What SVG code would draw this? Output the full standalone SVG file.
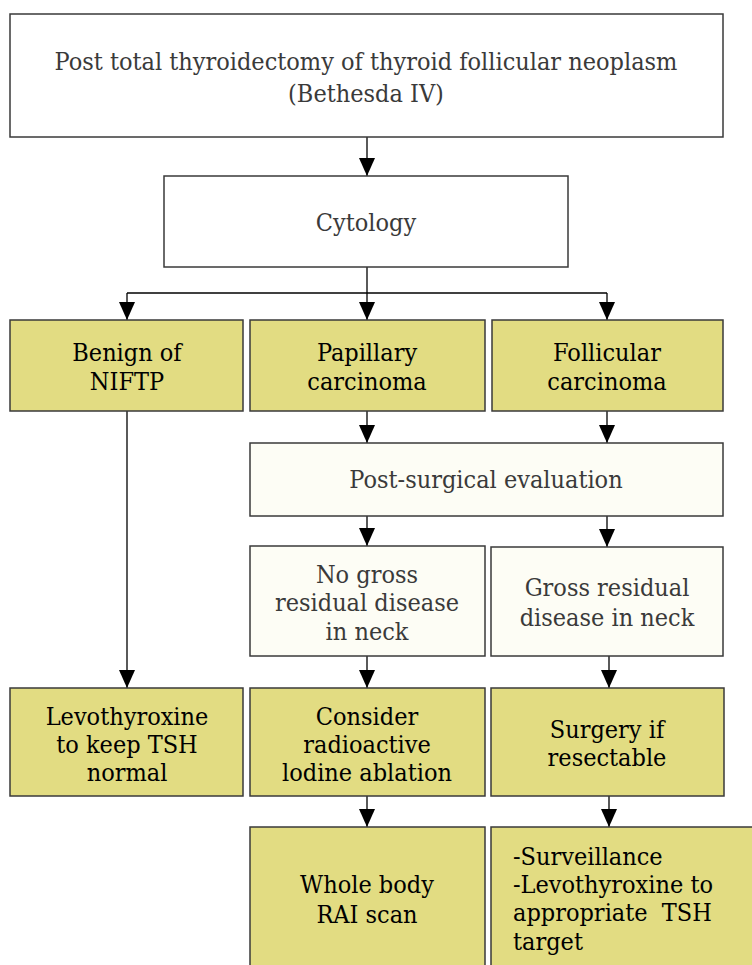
<svg xmlns="http://www.w3.org/2000/svg" width="752" height="965" viewBox="0 0 752 965">
<style>
.box{stroke:#3a3a3a;stroke-width:1.5}
.w{fill:#ffffff}
.c{fill:#fdfdf5}
.y{fill:#e2dc82}
text{font-family:'DejaVu Serif Condensed','DejaVu Serif',serif;font-stretch:condensed;font-size:25px;text-anchor:middle}
.tg{fill:#3a3a3a}
.tb{fill:#000000}
.ln{stroke:#000;stroke-width:1.3;fill:none}
</style>
<defs>
<marker id="a" markerUnits="userSpaceOnUse" markerWidth="18" markerHeight="16" viewBox="0 0 18 16" refX="18" refY="8" orient="auto">
<path d="M0,0 L18,8 L0,16 Z" fill="#000"/>
</marker>
</defs>
<g id="connectors">
<line class="ln" x1="367" y1="137" x2="367" y2="176" marker-end="url(#a)"/>
<polyline class="ln" points="367,267 367,293"/>
<line class="ln" x1="127" y1="293" x2="607" y2="293"/>
<line class="ln" x1="127" y1="293" x2="127" y2="320" marker-end="url(#a)"/>
<line class="ln" x1="367" y1="293" x2="367" y2="320" marker-end="url(#a)"/>
<line class="ln" x1="607" y1="293" x2="607" y2="320" marker-end="url(#a)"/>
<line class="ln" x1="367" y1="411" x2="367" y2="443" marker-end="url(#a)"/>
<line class="ln" x1="607" y1="411" x2="607" y2="443" marker-end="url(#a)"/>
<line class="ln" x1="367" y1="516" x2="367" y2="546" marker-end="url(#a)"/>
<line class="ln" x1="607" y1="516" x2="607" y2="547" marker-end="url(#a)"/>
<line class="ln" x1="127" y1="411" x2="127" y2="688" marker-end="url(#a)"/>
<line class="ln" x1="367" y1="656" x2="367" y2="688" marker-end="url(#a)"/>
<line class="ln" x1="609" y1="656" x2="609" y2="688" marker-end="url(#a)"/>
<line class="ln" x1="367" y1="796" x2="367" y2="827" marker-end="url(#a)"/>
<line class="ln" x1="609" y1="796" x2="609" y2="827" marker-end="url(#a)"/>
</g>
<g id="n-top">
<rect class="box w" x="10" y="14" width="713" height="123"/>
<text class="tg" x="366" y="70">Post total thyroidectomy of thyroid follicular neoplasm</text>
<text class="tg" x="366" y="102">(Bethesda IV)</text>
</g>
<g id="n-cytology">
<rect class="box w" x="164" y="176" width="404" height="91"/>
<text class="tg" x="366" y="231">Cytology</text>
</g>
<g id="n-benign">
<rect class="box y" x="10" y="320" width="233" height="91"/>
<text class="tb" x="127" y="361">Benign of</text>
<text class="tb" x="127" y="390">NIFTP</text>
</g>
<g id="n-papillary">
<rect class="box y" x="250" y="320" width="235" height="91"/>
<text class="tb" x="367" y="361">Papillary</text>
<text class="tb" x="367" y="390">carcinoma</text>
</g>
<g id="n-follicular">
<rect class="box y" x="492" y="320" width="231" height="91"/>
<text class="tb" x="607" y="361">Follicular</text>
<text class="tb" x="607" y="390">carcinoma</text>
</g>
<g id="n-postsurg">
<rect class="box c" x="250" y="443" width="473" height="73"/>
<text class="tg" x="486" y="488">Post-surgical evaluation</text>
</g>
<g id="n-nogross">
<rect class="box c" x="250" y="546" width="235" height="110"/>
<text class="tg" x="367" y="583">No gross</text>
<text class="tg" x="367" y="611">residual disease</text>
<text class="tg" x="367" y="640">in neck</text>
</g>
<g id="n-gross">
<rect class="box c" x="491" y="547" width="232" height="109"/>
<text class="tg" x="607" y="596">Gross residual</text>
<text class="tg" x="607" y="626">disease in neck</text>
</g>
<g id="n-levo">
<rect class="box y" x="10" y="688" width="233" height="108"/>
<text class="tb" x="127" y="725">Levothyroxine</text>
<text class="tb" x="127" y="753">to keep TSH</text>
<text class="tb" x="127" y="781">normal</text>
</g>
<g id="n-consider">
<rect class="box y" x="250" y="688" width="235" height="108"/>
<text class="tb" x="367" y="725">Consider</text>
<text class="tb" x="367" y="753">radioactive</text>
<text class="tb" x="367" y="781">lodine ablation</text>
</g>
<g id="n-surgery">
<rect class="box y" x="491" y="688" width="233" height="108"/>
<text class="tb" x="607" y="738">Surgery if</text>
<text class="tb" x="607" y="766">resectable</text>
</g>
<g id="n-wholebody">
<rect class="box y" x="250" y="827" width="235" height="145"/>
<text class="tb" x="367" y="893">Whole body</text>
<text class="tb" x="367" y="923">RAI scan</text>
</g>
<g id="n-surveil">
<rect class="box y" x="491" y="827" width="270" height="145"/>
<text class="tb" x="513" y="865" style="text-anchor:start">-Surveillance</text>
<text class="tb" x="513" y="893" style="text-anchor:start">-Levothyroxine to</text>
<text class="tb" x="513" y="921" style="text-anchor:start;white-space:pre">appropriate  TSH</text>
<text class="tb" x="513" y="950" style="text-anchor:start">target</text>
</g>
</svg>
